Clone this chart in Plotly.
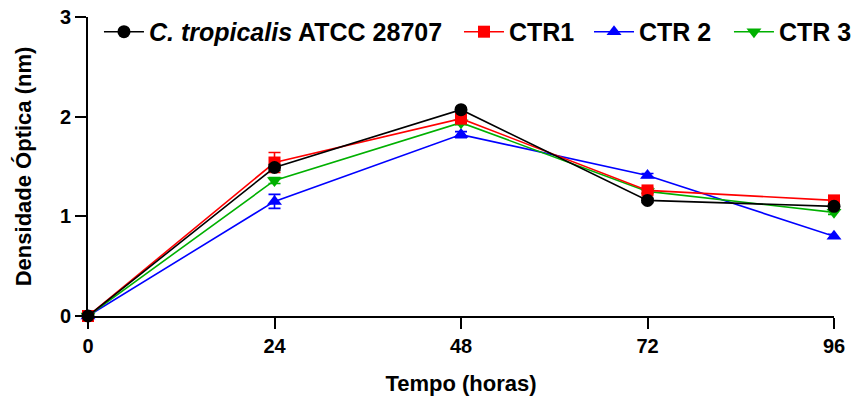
import plotly.graph_objects as go

hours = [0, 24, 48, 72, 96]

series_names = ["<i>C. tropicalis</i> ATCC 28707", "CTR1", "CTR 2", "CTR 3"]
atcc = [0.0, 1.49, 2.07, 1.16, 1.10]
ctr1 = [0.0, 1.54, 1.98, 1.26, 1.16]
ctr2 = [0.0, 1.15, 1.82, 1.41, 0.80]
ctr3 = [0.0, 1.36, 1.94, 1.25, 1.04]

atcc_err = [0.0, 0.03, 0.02, 0.02, 0.02]
ctr1_err = [0.0, 0.10, 0.03, 0.03, 0.02]
ctr2_err = [0.0, 0.07, 0.03, 0.02, 0.02]
ctr3_err = [0.0, 0.03, 0.02, 0.02, 0.02]

y_ticks = [0, 1, 2, 3]
x_ticks = [0, 24, 48, 72, 96]

FONT = "Arial, 'Liberation Sans', sans-serif"

fig = go.Figure()

# (name, values, errors, color, symbol, legend id, marker size)
specs = [
    (series_names[2], ctr2, ctr2_err, "#0000ff", "triangle-up", "legend3", 13),
    (series_names[3], ctr3, ctr3_err, "#00b000", "triangle-down", "legend4", 13),
    (series_names[1], ctr1, ctr1_err, "#ff0000", "square", "legend2", 12),
    (series_names[0], atcc, atcc_err, "#000000", "circle", "legend", 13),
]

for name, vals, errs, color, sym, leg, msize in specs:
    fig.add_trace(go.Scatter(
        x=hours, y=vals, name="<b>" + name + "</b>",
        mode="lines+markers",
        line=dict(color=color, width=1.6),
        marker=dict(symbol=sym, size=msize, color=color, line=dict(width=0)),
        error_y=dict(type="data", array=errs, visible=True, color=color,
                     thickness=1.6, width=6),
        legend=leg,
        cliponaxis=False,
    ))

def leg_style(xpos):
    return dict(
        orientation="h", x=xpos, y=0.95, xanchor="left", yanchor="middle",
        font=dict(family=FONT, size=25, color="black"),
        bgcolor="rgba(0,0,0,0)", itemwidth=40,
    )

fig.update_layout(
    width=863, height=405,
    margin=dict(l=88, r=29, t=17, b=89, autoexpand=False),
    plot_bgcolor="white", paper_bgcolor="white",
    font=dict(family=FONT, color="black"),
    showlegend=True,
    legend=leg_style(0.0147),
    legend2=leg_style(0.4973),
    legend3=leg_style(0.6716),
    legend4=leg_style(0.8592),
    xaxis=dict(
        range=[0, 96], tickmode="array", tickvals=x_ticks,
        ticktext=["<b>%d</b>" % v for v in x_ticks],
        ticks="outside", ticklen=11, tickwidth=1.6, tickcolor="black",
        showline=True, linecolor="black", linewidth=1.6,
        showgrid=False, zeroline=False,
        tickfont=dict(family=FONT, size=20, color="black"),
        title=dict(text="<b>Tempo (horas)</b>", font=dict(family=FONT, size=22), standoff=20),
    ),
    yaxis=dict(
        range=[0, 3], tickmode="array", tickvals=y_ticks,
        ticktext=["<b>%d</b>" % v for v in y_ticks],
        ticks="outside", ticklen=11, tickwidth=1.6, tickcolor="black",
        showline=True, linecolor="black", linewidth=1.6,
        showgrid=False, zeroline=False,
        tickfont=dict(family=FONT, size=20, color="black"),
        title=dict(text="<b>Densidade Óptica (nm)</b>", font=dict(family=FONT, size=22), standoff=22),
    ),
)

fig.write_html("out.html")
